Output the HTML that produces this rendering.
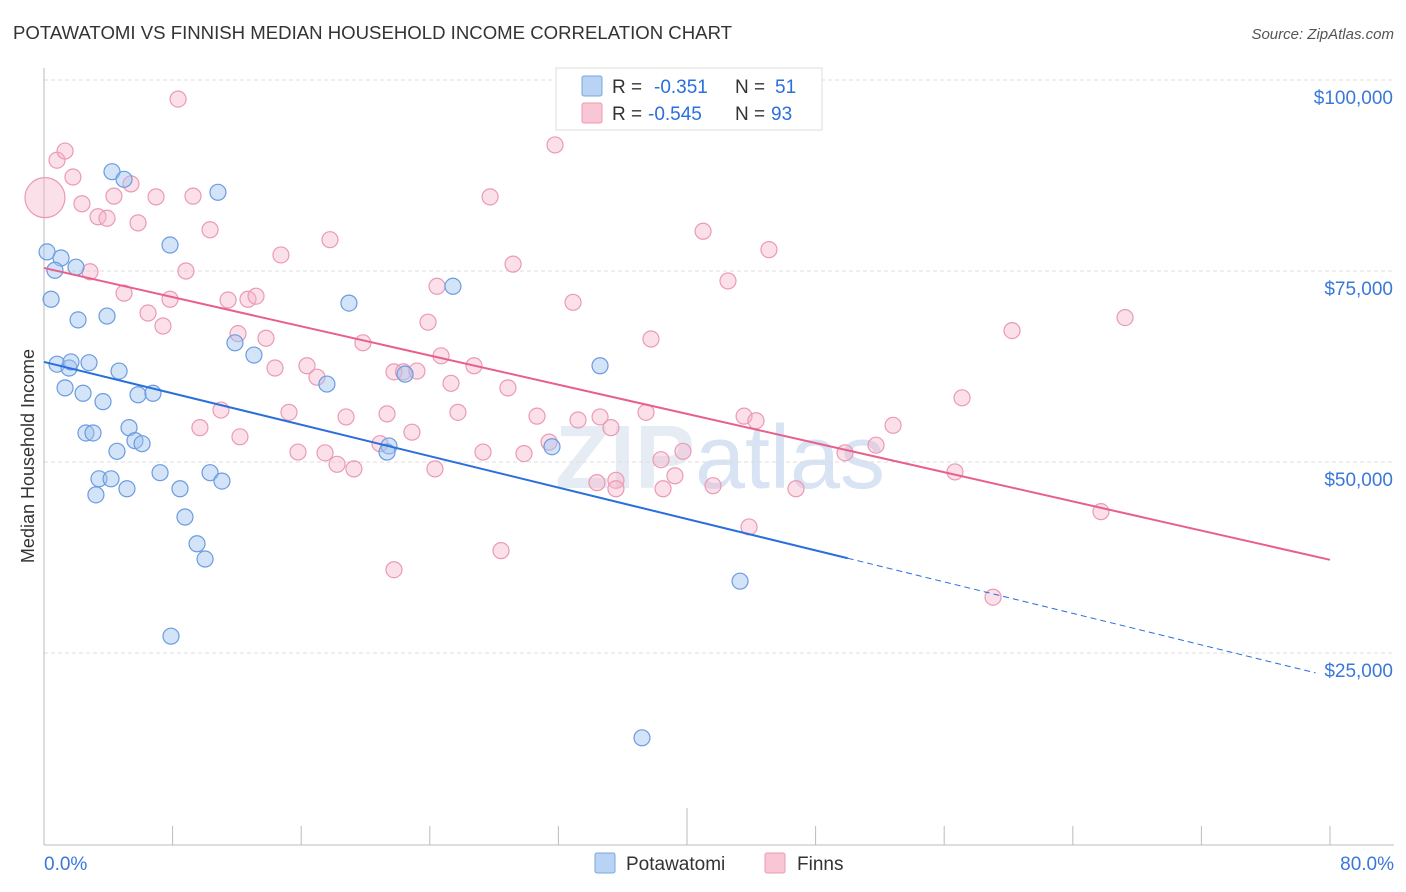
<!DOCTYPE html>
<html><head><meta charset="utf-8"><style>
body{margin:0;background:#fff;font-family:"Liberation Sans",sans-serif;}
svg{display:block}
</style></head><body>
<svg id="chart" width="1406" height="892">
<text x="13" y="39" font-size="18.6" fill="#333">POTAWATOMI VS FINNISH MEDIAN HOUSEHOLD INCOME CORRELATION CHART</text>
<text x="1394" y="39" font-size="15" fill="#555" font-style="italic" text-anchor="end">Source: ZipAtlas.com</text>
<text x="720" y="488" font-size="90" fill="#c9d6e8" opacity="0.45" text-anchor="middle" font-weight="bold">ZIP<tspan font-weight="normal" fill="#a9c3e6">atlas</tspan></text>
<g id="grid"></g>
<g id="axes"></g>
<g id="marks"></g>
<text x="34" y="456" font-size="18" fill="#333" text-anchor="middle" transform="rotate(-90 34 456)">Median Household Income</text>
<g>
<rect x="556" y="68" width="266" height="62" fill="#fff" stroke="#ddd"/>
<rect x="582" y="76" width="20" height="20" fill="#b9d3f4" stroke="#7aa6e0" rx="2"/>
<text x="612" y="93" font-size="19" fill="#333">R =</text>
<text x="654" y="93" font-size="19" fill="#2a6fdb">-0.351</text>
<text x="735" y="93" font-size="19" fill="#333">N =</text>
<text x="775" y="93" font-size="19" fill="#2a6fdb">51</text>
<rect x="582" y="103" width="20" height="20" fill="#f9c6d6" stroke="#eb9ab4" rx="2"/>
<text x="612" y="120" font-size="19" fill="#333">R =</text>
<text x="648" y="120" font-size="19" fill="#2a6fdb">-0.545</text>
<text x="735" y="120" font-size="19" fill="#333">N =</text>
<text x="771" y="120" font-size="19" fill="#2a6fdb">93</text>
</g>
<g>
<rect x="595" y="853" width="20" height="20" fill="#b9d3f4" stroke="#7aa6e0" rx="2"/>
<text x="626" y="870" font-size="19" fill="#333">Potawatomi</text>
<rect x="765" y="853" width="20" height="20" fill="#f9c6d6" stroke="#eb9ab4" rx="2"/>
<text x="797" y="870" font-size="19" fill="#333">Finns</text>
</g>
</svg>
<script>
const yTicks=[25000,50000,75000,100000];
const yTickLabels=["$25,000","$50,000","$75,000","$100,000"];
const xTickPcts=[0,8,16,24,32,40,48,56,64,72,80];
const potX=[0.19,1.06,0.68,1.99,0.44,2.12,3.92,4.23,4.98,10.82,7.84,0.81,1.56,2.80,1.68,4.67,1.31,2.43,3.67,5.85,6.78,2.61,3.05,5.29,5.66,6.10,4.54,3.42,4.17,3.23,5.16,7.22,8.46,10.33,11.07,8.77,9.52,10.02,7.90,11.88,13.06,18.97,17.60,25.44,22.46,21.46,21.34,31.60,34.59,43.30,37.20];
const potY=[77.5,76.7,75.1,75.5,71.3,68.6,69.1,88.0,87.0,85.3,78.4,62.8,62.3,63.0,63.1,61.9,59.7,59.0,57.9,58.8,59.0,53.8,53.8,54.5,52.8,52.4,51.4,47.8,47.8,45.7,46.5,48.6,46.5,48.6,47.5,42.8,39.3,37.3,27.2,65.6,64.0,70.8,60.2,73.0,61.5,52.1,51.3,52.0,62.6,34.4,13.9];
const finX=[0.06,0.81,1.31,1.80,2.36,3.36,3.92,4.35,5.41,5.85,6.97,8.34,9.27,10.33,8.83,2.86,4.98,6.47,7.40,7.84,11.45,12.69,13.19,12.07,13.81,14.74,17.79,14.37,16.36,16.98,15.24,11.01,9.70,12.19,15.80,17.48,18.23,19.28,18.79,19.84,21.34,20.90,21.77,22.36,23.20,22.89,23.89,24.45,24.70,25.32,24.32,25.75,26.75,27.31,27.75,28.86,29.18,29.86,30.67,31.42,31.79,32.91,33.22,34.59,35.27,35.58,35.58,34.40,37.45,37.76,38.38,38.51,39.25,39.75,41.00,42.55,41.62,43.55,43.86,44.29,45.10,46.78,49.83,51.76,52.82,56.67,57.11,59.04,60.22,65.75,67.25,28.43,21.77];
const finY=[84.6,89.5,90.7,87.3,83.8,82.1,81.9,84.8,86.4,81.3,84.7,97.5,84.8,80.4,75.0,74.9,72.1,69.5,67.8,71.3,71.2,71.3,71.7,66.8,66.2,77.1,79.1,62.3,62.6,61.1,56.5,56.8,54.5,53.3,51.3,51.2,49.7,49.1,55.9,65.6,56.3,52.4,61.8,61.8,61.9,53.9,68.3,73.0,63.9,60.3,49.1,56.5,62.6,51.3,84.7,59.7,75.9,51.1,56.0,52.6,91.5,70.9,55.5,55.9,54.5,47.6,46.5,47.3,56.5,66.1,50.3,46.5,48.2,51.4,80.2,73.7,46.9,56.0,41.5,55.4,77.8,46.5,51.2,52.2,54.8,48.7,58.4,32.3,67.2,43.5,68.9,38.4,35.9];
const potTrend=[[0,63.1],[50,37.4],[79.1,22.4]];
const finTrend=[[0,75.4],[80,37.2]];

const NS="http://www.w3.org/2000/svg";
const X=p=>44+p*16.075;
const Y=k=>844-k*1000/25000*191;
function mk(parent,tag,attrs){const e=document.createElementNS(NS,tag);for(const k in attrs)e.setAttribute(k,attrs[k]);document.getElementById(parent).appendChild(e);return e;}
yTicks.forEach((v,i)=>{
 const y=Y(v/1000);
 const l=mk('grid','line',{x1:44,x2:1394,y1:y,y2:y,stroke:'#ddd','stroke-dasharray':'4,3'});
 
 
 const t=mk('grid','text',{x:1393,y:y+24,'font-size':19,fill:'#3a78d8','text-anchor':'end'});
 t.textContent=yTickLabels[i];
 
 
});
const ax=mk('axes','line',{x1:44,x2:1394,y1:845,y2:845,stroke:'#bbb'});


const ay=mk('axes','line',{x1:44,x2:44,y1:68,y2:845,stroke:'#bbb'});


xTickPcts.forEach(p=>{
 if(p===0)return;
 const tk=mk('axes','line',{x1:X(p),x2:X(p),y1:p===40?808:826,y2:845,stroke:'#bbb'});
 
 
});
const xl0=mk('axes','text',{x:44,y:870,'font-size':19,fill:'#3a78d8'});xl0.textContent=xTickPcts[0].toFixed(1)+'%';


const xl1=mk('axes','text',{x:1394,y:870,'font-size':19,fill:'#3a78d8','text-anchor':'end'});xl1.textContent=xTickPcts[10].toFixed(1)+'%';



finX.forEach((x,i)=>{
 const c=mk('marks','circle',{cx:X(x),cy:Y(finY[i]),r:i===0?20:8,fill:'rgba(246,177,201,0.4)',stroke:'#eb9ab4','stroke-width':1.2});
 
 
});
potX.forEach((x,i)=>{
 const c=mk('marks','circle',{cx:X(x),cy:Y(potY[i]),r:8,fill:'rgba(160,195,240,0.45)',stroke:'#6b9be0','stroke-width':1.2});
 
 
});
const pl=mk('marks','line',{x1:X(finTrend[0][0]),y1:Y(finTrend[0][1]),x2:X(finTrend[1][0]),y2:Y(finTrend[1][1]),stroke:'#e8608a','stroke-width':2});


const bl=mk('marks','line',{x1:X(potTrend[0][0]),y1:Y(potTrend[0][1]),x2:X(potTrend[1][0]),y2:Y(potTrend[1][1]),stroke:'#2a6fdb','stroke-width':2});


const bd=mk('marks','line',{x1:X(potTrend[1][0]),y1:Y(potTrend[1][1]),x2:X(potTrend[2][0]),y2:Y(potTrend[2][1]),stroke:'#2a6fdb','stroke-width':1,'stroke-dasharray':'6,4'});


</script>
</body></html>
